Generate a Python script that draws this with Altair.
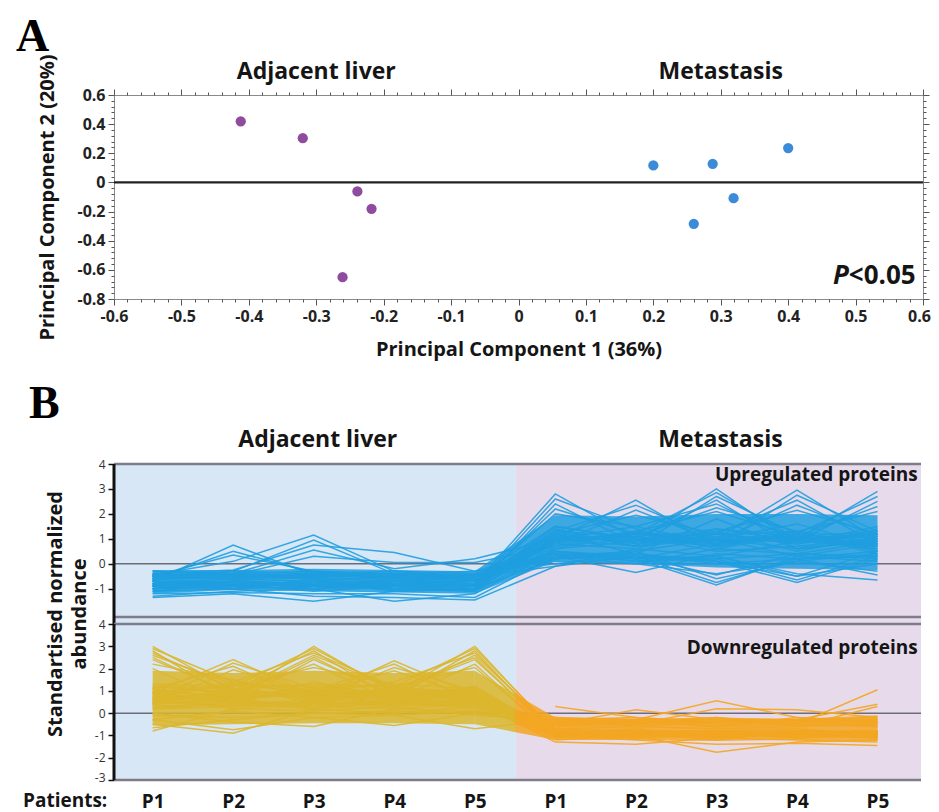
import altair as alt
import pandas as pd

# ---------------- data ----------------
GROUPS = ["Adjacent liver", "Metastasis"]
PATIENTS = ["P1", "P2", "P3", "P4", "P5"]

# Panel A: PCA scores
ADJ_PC1 = [-0.412, -0.320, -0.239, -0.218, -0.261]
ADJ_PC2 = [0.419, 0.304, -0.062, -0.181, -0.650]
MET_PC1 = [0.200, 0.288, 0.400, 0.319, 0.260]
MET_PC2 = [0.117, 0.128, 0.236, -0.108, -0.284]

# Panel B: standardised abundance profiles (adjacent P1..P5, metastasis P1..P5)
UP_PROFILES = [
    [-0.70, 0.75, -0.45, -0.55, -0.70, 1.00, 1.20, 0.90, 1.10, 0.80],
    [-0.60, 0.50, -0.35, -0.50, -0.65, 0.80, 0.60, 1.40, 0.90, 1.20],
    [-0.50, 0.35, -0.30, -0.45, -0.55, 1.50, 1.00, 0.70, 1.30, 0.60],
    [-0.45, 0.10, 1.15, -0.30, -0.50, 0.90, 1.10, 0.50, 0.70, 1.00],
    [-0.65, -0.30, 0.95, -0.40, -0.60, 1.20, 0.40, 1.80, 0.60, 0.90],
    [-0.40, -0.25, 0.75, 0.45, -0.30, 0.60, 0.90, 1.00, 1.60, 0.70],
    [-0.55, -0.40, 0.55, -0.20, 0.20, 1.00, 0.70, 1.20, 0.80, 1.50],
    [-0.30, -0.45, 0.30, 0.05, 0.05, 0.70, 1.30, 0.90, 1.00, 1.20],
    [-1.35, -1.20, -1.50, -1.10, -1.00, 0.20, 0.50, 1.00, 0.30, 0.80],
    [-1.30, -1.10, -1.00, -1.50, -1.20, 0.50, 0.20, 0.80, 1.20, 0.40],
    [-1.10, -1.00, -1.30, -1.35, -1.45, -0.10, 0.60, 0.30, 0.90, 1.10],
    [-1.20, -1.15, -1.20, -1.20, -1.35, 0.30, 0.00, 0.60, 0.40, 0.90],
    [-0.90, -0.80, -0.90, -1.00, -0.80, 2.80, 1.00, 0.80, 1.00, 0.90],
    [-0.70, -0.90, -0.70, -0.80, -0.90, 2.60, 1.40, 0.60, 1.20, 0.50],
    [-1.00, -0.70, -0.80, -0.90, -1.00, 2.40, 0.80, 1.30, 0.50, 1.10],
    [-0.80, -0.80, -0.90, -0.80, -0.90, 2.20, 1.20, 1.00, 0.90, 1.30],
    [-0.90, -0.70, -0.80, -0.90, -0.80, 2.00, 1.50, 0.80, 1.10, 0.70],
    [-0.80, -0.60, -1.00, -0.70, -0.70, 1.00, 2.55, 0.70, 1.10, 0.80],
    [-0.90, -1.00, -0.60, -0.90, -0.60, 1.30, 2.35, 1.00, 0.60, 1.00],
    [-0.60, -0.80, -0.90, -0.60, -0.80, 0.80, 2.15, 0.90, 1.30, 0.50],
    [-0.70, -0.90, -0.80, -0.80, -0.90, 1.20, 1.95, 1.20, 0.90, 1.20],
    [-1.00, -0.90, -0.80, -1.00, -1.10, 1.10, 0.90, 3.00, 0.80, 1.20],
    [-0.80, -0.70, -0.90, -0.80, -0.90, 0.90, 1.20, 2.85, 1.00, 0.60],
    [-0.90, -0.80, -1.10, -0.90, -0.80, 1.40, 0.70, 2.70, 1.20, 0.90],
    [-0.70, -0.90, -0.70, -1.10, -1.00, 0.70, 1.00, 2.55, 0.60, 1.40],
    [-1.10, -0.80, -0.80, -0.70, -0.90, 1.00, 1.50, 2.40, 0.90, 0.70],
    [-0.90, -0.80, -0.90, -0.80, -0.90, 1.30, 1.10, 2.25, 1.30, 1.00],
    [-0.80, -0.90, -0.80, -0.90, -0.80, 0.90, 1.30, 2.10, 1.10, 1.30],
    [-0.80, -1.00, -0.90, -0.80, -0.70, 1.20, 0.80, 1.00, 2.95, 1.00],
    [-0.90, -0.70, -0.80, -1.00, -1.00, 0.90, 1.10, 0.70, 2.75, 1.30],
    [-1.00, -0.90, -1.00, -0.90, -0.80, 1.50, 1.00, 1.20, 2.55, 0.80],
    [-0.70, -0.80, -0.90, -0.90, -1.10, 0.60, 1.30, 0.90, 2.35, 1.10],
    [-0.90, -0.80, -0.80, -0.70, -0.90, 1.10, 0.90, 1.30, 2.15, 1.20],
    [-0.80, -0.90, -0.80, -0.80, -0.90, 1.10, 0.90, 1.10, 1.00, 2.90],
    [-0.90, -1.00, -0.70, -1.00, -0.80, 0.80, 1.20, 0.80, 1.20, 2.70],
    [-1.00, -0.80, -0.90, -0.70, -1.00, 1.30, 0.70, 1.00, 0.90, 2.50],
    [-0.80, -0.70, -1.00, -0.90, -0.90, 1.00, 1.00, 1.40, 1.10, 2.30],
    [-0.70, -0.80, -0.90, -0.80, -0.80, 0.90, 1.20, 1.20, 1.30, 2.10],
    [-0.60, -0.50, -0.60, -0.70, -0.50, -0.10, 0.30, 0.20, 0.40, 0.30],
    [-0.50, -0.60, -0.50, -0.50, -0.60, 0.30, -0.35, 0.40, 0.20, 0.50],
    [-0.40, -0.50, -0.40, -0.60, -0.40, 0.40, 0.20, -0.85, 0.30, 0.10],
    [-0.45, -0.45, -0.50, -0.55, -0.45, 0.20, 0.30, -0.75, 0.20, 0.30],
    [-0.50, -0.40, -0.50, -0.40, -0.50, 0.30, 0.50, -0.60, 0.10, 0.40],
    [-0.45, -0.55, -0.45, -0.50, -0.45, 0.50, 0.30, -0.45, 0.40, 0.20],
    [-0.50, -0.40, -0.50, -0.40, -0.50, 0.20, 0.40, 0.10, -0.75, 0.20],
    [-0.40, -0.50, -0.40, -0.50, -0.40, 0.40, 0.10, 0.20, -0.65, 0.30],
    [-0.55, -0.45, -0.55, -0.45, -0.55, 0.40, 0.20, 0.30, -0.50, 0.50],
    [-0.60, -0.60, -0.70, -0.50, -0.60, 0.50, 0.10, 0.30, -0.40, -0.65],
    [-0.50, -0.50, -0.60, -0.60, -0.50, 0.30, 0.40, 0.00, 0.20, -0.45],
    [-0.30, -0.40, -0.30, -0.40, -0.30, 0.10, 0.00, -0.40, 0.10, -0.30],
    [-0.50, -0.30, -0.40, -0.30, -0.40, 0.00, 0.30, 0.10, -0.50, 0.00],
]
UP_CORE_LO = [-1.20, -1.05, -1.10, -1.15, -1.20, 0.10, 0.00, -0.15, -0.20, -0.25]
UP_CORE_HI = [-0.25, -0.25, -0.20, -0.25, -0.30, 1.95, 1.90, 2.00, 2.00, 1.95]

DOWN_PROFILES = [
    [3.00, 1.00, 0.80, 0.60, 0.90, -0.90, -0.80, -1.00, -0.90, -0.80],
    [2.90, 1.40, 1.00, 0.80, 0.70, -0.80, -0.90, -0.90, -1.00, -0.90],
    [2.80, 0.60, 1.20, 0.90, 0.50, -1.00, -0.90, -0.80, -1.00, -0.90],
    [2.70, 1.10, 0.60, 1.00, 0.80, -0.90, -1.00, -1.00, -0.90, -1.00],
    [2.60, 1.30, 0.40, 1.10, 0.70, -0.80, -1.00, -0.90, -0.80, -1.00],
    [2.50, 0.80, 0.90, 0.70, 1.10, -1.00, -0.80, -0.90, -1.00, -0.80],
    [2.40, 0.90, 1.00, 0.30, 1.20, -0.90, -0.70, -1.10, -0.90, -0.90],
    [2.20, 1.50, 0.70, 0.80, 0.40, -1.10, -0.90, -0.90, -1.10, -0.80],
    [2.00, 0.40, 1.40, 0.60, 1.00, -0.70, -0.80, -0.80, -0.70, -1.00],
    [0.90, 2.40, 0.80, 1.00, 0.60, -0.90, -1.00, -1.00, -0.90, -0.90],
    [0.60, 2.25, 1.10, 0.70, 0.90, -1.00, -0.80, -0.90, -1.00, -1.10],
    [1.10, 2.10, 0.50, 1.20, 0.80, -0.80, -0.90, -1.20, -0.80, -0.80],
    [0.40, 1.95, 0.90, 0.40, 1.10, -0.90, -1.10, -0.80, -0.90, -0.90],
    [0.80, 0.70, 3.00, 0.90, 0.70, -1.00, -0.90, -0.90, -1.10, -1.00],
    [1.30, 1.20, 2.90, 1.00, 0.90, -0.90, -1.00, -0.80, -0.90, -0.90],
    [1.00, 1.00, 2.80, 0.60, 0.50, -0.90, -0.80, -1.00, -0.90, -0.80],
    [0.70, 1.40, 2.70, 1.20, 0.80, -1.00, -0.90, -0.90, -1.00, -1.00],
    [0.50, 0.80, 2.60, 1.10, 1.00, -0.80, -1.00, -0.80, -1.00, -0.90],
    [1.10, 0.70, 2.50, 0.70, 1.20, -0.90, -0.80, -1.10, -0.90, -0.80],
    [0.70, 0.50, 2.40, 0.80, 0.60, -1.10, -0.90, -1.10, -0.80, -1.00],
    [1.20, 0.90, 2.20, 0.50, 0.90, -0.90, -1.00, -0.90, -0.90, -1.10],
    [0.90, 1.20, 2.05, 1.30, 1.10, -1.00, -0.90, -1.00, -0.80, -0.90],
    [0.60, 0.90, 0.70, 2.35, 0.80, -1.00, -0.80, -1.00, -1.00, -0.80],
    [0.90, 0.60, 1.00, 2.20, 0.50, -0.80, -0.90, -0.90, -0.80, -0.90],
    [0.40, 1.10, 0.60, 2.05, 1.00, -0.90, -1.10, -1.00, -0.90, -1.00],
    [1.00, 0.70, 0.90, 1.90, 0.70, -1.00, -0.90, -0.80, -1.10, -0.90],
    [0.70, 0.80, 0.80, 0.90, 3.00, -0.90, -0.80, -1.10, -0.90, -0.80],
    [1.20, 1.10, 1.30, 1.20, 2.90, -0.80, -0.90, -1.00, -1.00, -0.90],
    [0.50, 1.00, 0.60, 0.70, 2.80, -1.00, -1.00, -0.90, -0.80, -1.00],
    [0.90, 1.30, 0.90, 1.40, 2.70, -0.90, -0.80, -0.80, -0.90, -1.10],
    [0.90, 0.50, 1.10, 0.80, 2.60, -0.80, -0.90, -1.00, -1.00, -0.90],
    [0.70, 0.70, 0.80, 1.10, 2.50, -1.00, -1.10, -0.90, -0.90, -0.80],
    [0.60, 0.90, 0.70, 1.00, 2.40, -0.90, -1.00, -0.80, -0.90, -1.10],
    [1.10, 0.60, 0.90, 0.60, 2.20, -1.10, -0.80, -0.90, -1.00, -0.90],
    [0.80, 1.30, 1.20, 1.20, 2.05, -1.00, -0.90, -1.00, -0.90, -1.00],
    [-0.80, 0.20, 0.10, 0.30, -0.10, -0.30, -0.20, -0.50, -0.40, -0.30],
    [-0.65, -0.30, 0.00, 0.10, 0.00, -0.50, -0.40, -0.60, -0.50, -0.40],
    [-0.50, -0.90, 0.20, 0.00, 0.30, -0.40, -0.50, -0.20, -0.60, -0.50],
    [-0.30, -0.75, -0.20, -0.10, 0.10, -0.60, -0.30, -0.40, -0.30, -0.60],
    [0.00, -0.40, -0.60, 0.20, 0.10, -0.20, -0.30, -0.60, -0.20, -0.40],
    [-0.30, 0.10, -0.20, -0.55, 0.00, -0.50, -0.40, -0.30, -0.30, -0.20],
    [-0.10, -0.20, 0.00, -0.10, -0.70, -0.30, -0.60, -0.40, -0.50, -0.60],
    [0.30, 0.40, 0.20, 0.50, 0.30, 0.30, -0.20, -0.40, -0.30, -0.50],
    [0.60, 0.30, 0.50, 0.40, 0.60, -0.50, 0.15, -0.30, -0.40, -0.30],
    [0.40, 0.60, 0.30, 0.60, 0.40, -0.40, -0.30, 0.55, -0.20, -0.40],
    [0.50, 0.50, 0.40, 0.30, 0.50, -0.60, -0.50, 0.20, 0.15, -0.20],
    [0.30, 0.40, 0.60, 0.50, 0.20, -0.30, -0.40, -0.20, -0.50, 1.05],
    [0.20, 0.30, 0.50, 0.40, 0.40, -0.20, -0.50, -0.40, -0.30, 0.40],
    [0.70, 0.20, 0.40, 0.60, 0.50, -1.30, -1.40, -1.10, -1.20, -1.30],
    [0.20, 0.50, 0.30, 0.20, 0.40, -1.20, -1.00, -1.75, -1.30, -1.20],
    [0.50, 0.30, 0.50, 0.40, 0.30, -1.00, -1.20, -1.40, -1.35, -1.45],
    [0.40, 0.70, 0.20, 0.50, 0.60, -0.70, -0.60, -0.70, -0.60, 0.30],
]
DOWN_CORE_LO = [-0.55, -0.50, -0.45, -0.45, -0.50, -1.20, -1.20, -1.25, -1.20, -1.25]
DOWN_CORE_HI = [1.90, 1.80, 1.90, 1.80, 1.90, -0.20, -0.25, -0.20, -0.25, -0.10]

# ---------------- styles ----------------
FONT = "Open Sans"
SERIF = "Liberation Serif"
POINT_COLORS = ["#8f4c9f", "#3b8bd9"]
BG_BLUE = "#d7e7f5"
BG_PURPLE = "#e7dbeb"
BLUE = "#1f9fe0"
GOLD = "#dcb62c"
ORANGE = "#f3a622"
GRAY = "#7e7c8a"
INK = "#151515"
LW = 1.5

WA, HA = 809, 204
WB, HU, HL = 807, 153, 156

# ---------------- tables ----------------
pca = pd.DataFrame({
    "pc1": ADJ_PC1 + MET_PC1,
    "pc2": ADJ_PC2 + MET_PC2,
    "group": [GROUPS[0]] * len(ADJ_PC1) + [GROUPS[1]] * len(MET_PC1),
})
one = pd.DataFrame({"k": [0]})


def long_table(profiles):
    return pd.DataFrame([
        {"id": k, "pos": i, "value": v}
        for k, prof in enumerate(profiles) for i, v in enumerate(prof)
    ])


up_long = long_table(UP_PROFILES)
down_long = long_table(DOWN_PROFILES)
up_core = pd.DataFrame({"pos": list(range(10)), "lo": UP_CORE_LO, "hi": UP_CORE_HI})
down_core = pd.DataFrame({"pos": list(range(10)), "lo": DOWN_CORE_LO, "hi": DOWN_CORE_HI})

# ---------------- panel A ----------------
XT = [round(-0.6 + 0.02 * k, 2) for k in range(61)]
YT = [round(-0.8 + 0.04 * k, 2) for k in range(36)]
XMAJ = "abs(datum.value*10 - round(datum.value*10)) < 1e-6"
YMAJ = "abs(datum.value*5 - round(datum.value*5)) < 1e-6"
FMT = "(abs(datum.value) < 1e-9 ? '0' : replace(format(datum.value, '.1f'), '\u2212', '-'))"

xsA = alt.Scale(domain=[-0.6, 0.6], nice=False, zero=False)
ysA = alt.Scale(domain=[-0.8, 0.6], nice=False, zero=False)
TICKX = {"condition": {"test": XMAJ, "value": 6}, "value": 3}
TICKY = {"condition": {"test": YMAJ, "value": 6}, "value": 3}

XA = alt.Axis(values=XT, labelExpr=f"{XMAJ} ? {FMT} : ''", tickSize=TICKX,
              labelOffset={"condition": {"test": "datum.value > 0.59", "value": -4}, "value": 0},
              title="Principal Component 1 (36%)", labelFont=FONT, labelFontSize=16,
              labelFontWeight="bold", labelColor="#222", labelPadding=3,
              titleFont=FONT, titleFontSize=20, titleFontWeight="bold", titleColor=INK,
              titlePadding=15, grid=False, domain=False, tickColor="#555", tickWidth=1,
              labelOverlap=False, labelFlush=False)
YA = alt.Axis(values=YT, labelExpr=f"{YMAJ} ? {FMT} : ''", tickSize=TICKY,
              title="Principal Component 2 (20%)", labelFont=FONT, labelFontSize=16,
              labelFontWeight="bold", labelColor="#222", labelPadding=3,
              titleFont=FONT, titleFontSize=20, titleFontWeight="bold", titleColor=INK,
              titlePadding=19, grid=False, domain=False, tickColor="#555", tickWidth=1,
              labelOverlap=False, labelFlush=False)
XA_TOP = alt.Axis(orient="top", values=XT, labels=False, title=None, tickSize=TICKX,
                  grid=False, domain=False, tickColor="#555", tickWidth=1)
YA_RIGHT = alt.Axis(orient="right", values=YT, labels=False, title=None, tickSize=TICKY,
                    grid=False, domain=False, tickColor="#555", tickWidth=1)

a_zero = alt.Chart(one).mark_rule(color="#222", strokeWidth=2.2).encode(
    y=alt.Y(datum=0, scale=ysA, axis=YA))
a_pts = alt.Chart(pca).mark_circle(size=105, opacity=1).encode(
    x=alt.X("pc1:Q", scale=xsA, axis=XA),
    y=alt.Y("pc2:Q", scale=ysA, axis=YA),
    color=alt.Color("group:N", scale=alt.Scale(domain=GROUPS, range=POINT_COLORS), legend=None))
a_titles = alt.Chart(pd.DataFrame({"label": GROUPS, "xpos": [-0.3, 0.3]})).mark_text(
    font=FONT, fontSize=23, fontWeight="bold", color=INK, baseline="alphabetic").encode(
    x=alt.X("xpos:Q", scale=xsA, axis=XA), y=alt.value(-16), text="label:N")
a_letter = alt.Chart(one).mark_text(text="A", font=SERIF, fontSize=46, fontWeight="bold",
                                     color="#000", align="left", baseline="alphabetic").encode(
    x=alt.value(-98), y=alt.value(-44))
a_p = alt.Chart(one).mark_text(text="P", font=FONT, fontSize=26, fontWeight="bold",
                               fontStyle="italic", color=INK, align="right",
                               baseline="alphabetic").encode(
    x=alt.X(datum=0.49, scale=xsA, axis=XA), y=alt.Y(datum=-0.70, scale=ysA, axis=YA))
a_pv = alt.Chart(one).mark_text(text="<0.05", font=FONT, fontSize=26, fontWeight="bold",
                                color=INK, align="left", baseline="alphabetic").encode(
    x=alt.X(datum=0.49, scale=xsA, axis=XA), y=alt.Y(datum=-0.70, scale=ysA, axis=YA))
a_mirror = alt.Chart(pca).mark_circle(opacity=0).encode(
    x=alt.X("pc1:Q", scale=xsA, axis=XA_TOP),
    y=alt.Y("pc2:Q", scale=ysA, axis=YA_RIGHT))

panel_a = alt.layer(
    alt.layer(a_zero, a_pts, a_titles, a_letter, a_p, a_pv), a_mirror
).resolve_axis(x="independent", y="independent").properties(
    width=WA, height=HA, view=alt.ViewBackground(stroke="#8a8a8a", strokeWidth=1))

spacer = alt.Chart(one).mark_rule(opacity=0).encode(y=alt.value(0)).properties(
    width=WB, height=151, view=alt.ViewBackground(stroke=None))

# ---------------- panel B ----------------
xsB = alt.Scale(domain=[-0.48, 9.54], nice=False, zero=False)
ysU = alt.Scale(domain=[-2.13, 4], nice=False, zero=False)
ysL = alt.Scale(domain=[-3, 4], nice=False, zero=False)
INT_FMT = "replace(format(datum.value, 'd'), '\u2212', '-')"
PAT_ARR = "[" + ",".join(f"'{p}'" for p in PATIENTS) + "]"

GRAD = alt.LinearGradient(
    gradient="linear",
    stops=[alt.GradientStop(color=GOLD, offset=0), alt.GradientStop(color=GOLD, offset=0.5),
           alt.GradientStop(color=ORANGE, offset=0.5), alt.GradientStop(color=ORANGE, offset=1)],
    x1=0, x2=1, y1=0, y2=0)


def yaxis_b(values, bottom_shift=0):
    return alt.Axis(values=values, labelExpr=INT_FMT, domain=False, tickColor="#111",
                    tickSize=6, tickWidth=1.5, labelFont=FONT, labelFontSize=12,
                    labelColor="#333", labelPadding=3, title=None, grid=False,
                    labelOffset={"condition": {"test": "datum.value < -2.5",
                                               "value": bottom_shift}, "value": 0})


YU = yaxis_b([4, 3, 2, 1, 0, -1])
YL = yaxis_b([4, 3, 2, 1, 0, -1, -2, -3], bottom_shift=-3)
XU = None
XL = alt.Axis(values=list(range(10)), labelExpr=f"{PAT_ARR}[datum.value % 5]",
              domain=False, ticks=False, tickSize=0, labelFont=FONT, labelFontSize=19,
              labelFontWeight="bold", labelColor=INK, labelPadding=12, title=None,
              grid=False, labelOverlap=False, labelFlush=False)


def region(xa, ys, ya, x0, x1, y_top, y_bot, fill):
    return alt.Chart(one).mark_rect(color=fill).encode(
        x=alt.X(datum=x0, scale=xsB, axis=xa), x2=alt.X2(datum=x1),
        y=alt.Y(datum=y_top, scale=ys, axis=ya), y2=alt.Y2(datum=y_bot))


def hrule(ys, ya, yv, color, width):
    return alt.Chart(one).mark_rule(color=color, strokeWidth=width).encode(
        y=alt.Y(datum=yv, scale=ys, axis=ya))


def vaxis(xa, ys, ya, y_top, y_bot):
    return alt.Chart(one).mark_rule(color="#111", strokeWidth=3).encode(
        x=alt.X(datum=-0.48, scale=xsB, axis=xa),
        y=alt.Y(datum=y_top, scale=ys, axis=ya), y2=alt.Y2(datum=y_bot))


b_titles = alt.Chart(pd.DataFrame({"label": GROUPS, "xpos": [2.05, 7.05]})).mark_text(
    font=FONT, fontSize=23, fontWeight="bold", color=INK, baseline="alphabetic").encode(
    x=alt.X("xpos:Q", scale=xsB, axis=XU), y=alt.value(-17), text="label:N")
b_letter = alt.Chart(one).mark_text(text="B", font=SERIF, fontSize=46, fontWeight="bold",
                                     color="#000", align="left", baseline="alphabetic").encode(
    x=alt.value(-85), y=alt.value(-46))
b_ytitle = alt.Chart(one).mark_text(text=["Standartised normalized", "abundance"], font=FONT,
                                     fontSize=20, fontWeight="bold", color=INK, angle=270,
                                     align="center", baseline="middle", lineHeight=24).encode(
    x=alt.value(-58), y=alt.value(150))
up_label = alt.Chart(one).mark_text(text="Upregulated proteins", font=FONT, fontSize=19,
                                     fontWeight="bold", color=INK, align="right",
                                     baseline="alphabetic").encode(
    x=alt.X(datum=9.50, scale=xsB, axis=XU), y=alt.Y(datum=3.32, scale=ysU, axis=YU))
down_label = alt.Chart(one).mark_text(text="Downregulated proteins", font=FONT, fontSize=19,
                                       fontWeight="bold", color=INK, align="right",
                                       baseline="alphabetic").encode(
    x=alt.X(datum=9.50, scale=xsB, axis=XL), y=alt.Y(datum=2.65, scale=ysL, axis=YL))

up_area = alt.Chart(up_core).mark_area(color=BLUE, opacity=0.85).encode(
    x=alt.X("pos:Q", scale=xsB, axis=XU),
    y=alt.Y("lo:Q", scale=ysU, axis=YU), y2="hi:Q")
up_lines = alt.Chart(up_long).mark_line(color=BLUE, strokeWidth=LW, opacity=0.9).encode(
    x=alt.X("pos:Q", scale=xsB, axis=XU),
    y=alt.Y("value:Q", scale=ysU, axis=YU),
    detail="id:N")

panel_up = alt.layer(
    region(XU, ysU, YU, -0.48, 4.51, 4, -2.42, BG_BLUE),
    region(XU, ysU, YU, 4.51, 9.54, 4, -2.42, BG_PURPLE),
    hrule(ysU, YU, 0, "#6e6c78", 1.5), up_area, up_lines,
    hrule(ysU, YU, 4, GRAY, 2.5), hrule(ysU, YU, -2.13, GRAY, 2.5),
    vaxis(XU, ysU, YU, 4, -2.42),
    b_titles, b_letter, b_ytitle, up_label,
).properties(width=WB, height=HU, view=alt.ViewBackground(stroke=None))

d_adj_area = alt.Chart(down_core[down_core.pos <= 4]).mark_area(color=GOLD, opacity=0.85).encode(
    x=alt.X("pos:Q", scale=xsB, axis=XL), y=alt.Y("lo:Q", scale=ysL, axis=YL), y2="hi:Q")
d_tr_area = alt.Chart(down_core[(down_core.pos >= 4) & (down_core.pos <= 5)]).mark_area(
    color=GRAD, opacity=0.85).encode(
    x=alt.X("pos:Q", scale=xsB, axis=XL), y=alt.Y("lo:Q", scale=ysL, axis=YL), y2="hi:Q")
d_met_area = alt.Chart(down_core[down_core.pos >= 5]).mark_area(color=ORANGE, opacity=0.85).encode(
    x=alt.X("pos:Q", scale=xsB, axis=XL), y=alt.Y("lo:Q", scale=ysL, axis=YL), y2="hi:Q")

d_adj = alt.Chart(down_long[down_long.pos <= 4]).mark_line(
    color=GOLD, strokeWidth=LW, opacity=0.9).encode(
    x=alt.X("pos:Q", scale=xsB, axis=XL), y=alt.Y("value:Q", scale=ysL, axis=YL),
    detail="id:N")
d_tr = alt.Chart(down_long[(down_long.pos >= 4) & (down_long.pos <= 5)]).mark_line(
    stroke=GRAD, strokeWidth=LW, opacity=0.9).encode(
    x=alt.X("pos:Q", scale=xsB, axis=XL), y=alt.Y("value:Q", scale=ysL, axis=YL),
    detail="id:N")
d_met = alt.Chart(down_long[down_long.pos >= 5]).mark_line(
    color=ORANGE, strokeWidth=LW, opacity=0.9).encode(
    x=alt.X("pos:Q", scale=xsB, axis=XL), y=alt.Y("value:Q", scale=ysL, axis=YL),
    detail="id:N")

patients_label = alt.Chart(one).mark_text(text="Patients:", font=FONT, fontSize=19,
                                           fontWeight="bold", color=INK, align="left",
                                           baseline="top").encode(
    x=alt.value(-91), y=alt.value(HL + 12))

panel_low = alt.layer(
    region(XL, ysL, YL, -0.48, 4.51, 4, -3, BG_BLUE),
    region(XL, ysL, YL, 4.51, 9.54, 4, -3, BG_PURPLE),
    hrule(ysL, YL, 0, "#6e6c78", 1.5),
    d_adj_area, d_tr_area, d_met_area, d_adj, d_tr, d_met,
    hrule(ysL, YL, 4, GRAY, 2.5), hrule(ysL, YL, -3, GRAY, 2.5),
    vaxis(XL, ysL, YL, 4, -3),
    down_label, patients_label,
).properties(width=WB, height=HL, view=alt.ViewBackground(stroke=None))

chart = alt.vconcat(panel_a, spacer, panel_up, panel_low, spacing=7, bounds="flush").properties(
    padding={"left": 7, "top": 5, "right": 0, "bottom": 5}
).resolve_scale(color="independent")

chart.save("out.html", embed_options={"renderer": "svg", "actions": False})
